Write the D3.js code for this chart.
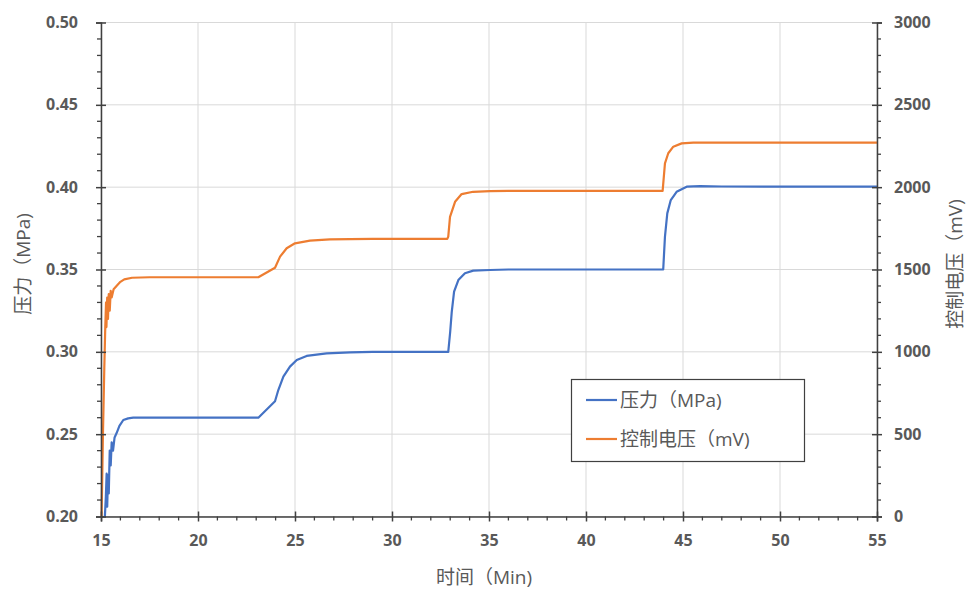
<!DOCTYPE html>
<html><head><meta charset="utf-8">
<script src="https://cdn.jsdelivr.net/npm/d3@7"></script>
<style>
body{margin:0;background:#fff;}
text{font-family:"Open Sans","Noto Sans CJK SC",sans-serif;}
</style></head>
<body>
<svg id="chart" width="968" height="589"></svg>
<script>
// ---- data ----
const xTicks = [15, 20, 25, 30, 35, 40, 45, 50, 55];
const leftTicks = [0.20, 0.25, 0.30, 0.35, 0.40, 0.45, 0.50];
const rightTicks = [0, 500, 1000, 1500, 2000, 2500, 3000];

const pressureTime = [15.2, 15.25, 15.29, 15.32, 15.36, 15.4, 15.45, 15.5, 15.55, 15.62, 15.7, 15.8, 15.95, 16.15, 16.4, 16.66, 17.5,
  23.11, 23.97, 24.14, 24.4, 24.74, 25.09, 25.6, 26.63, 27.84, 29,
  32.9, 33.0, 33.08, 33.2, 33.42, 33.76, 34.19, 35.05, 36,
  43.98, 44.07, 44.19, 44.37, 44.67, 45.19, 45.88, 47, 55];
const pressureValue = [0.200, 0.212, 0.226, 0.206, 0.225, 0.214, 0.240, 0.231, 0.245, 0.240, 0.248, 0.2505, 0.255, 0.2586, 0.2596, 0.2600, 0.2600,
  0.2600, 0.2700, 0.2768, 0.2849, 0.2910, 0.2950, 0.2975, 0.2991, 0.2997, 0.3000,
  0.3000, 0.3122, 0.3243, 0.3365, 0.3436, 0.3477, 0.3493, 0.3497, 0.3500,
  0.3500, 0.3700, 0.3841, 0.3922, 0.3972, 0.4003, 0.4006, 0.4004, 0.4003];

const voltageTime = [15.03, 15.1, 15.17, 15.22, 15.26, 15.28, 15.32, 15.36, 15.4, 15.45, 15.5, 15.55, 15.65, 15.8, 16.0, 16.2, 16.6, 17.5,
  23.11, 23.97, 24.23, 24.57, 25.0, 25.77, 26.8, 27.84, 29,
  32.85, 32.9, 32.99, 33.25, 33.59, 34.18, 35.05, 36,
  43.95, 44.07, 44.24, 44.5, 44.93, 45.53, 47, 55];
const voltageValue = [0, 500, 900, 1150, 1300, 1150, 1330, 1200, 1350, 1250, 1370, 1330, 1380, 1400, 1425, 1440, 1450, 1453,
  1453, 1511, 1578, 1629, 1659, 1675, 1683, 1685, 1686,
  1686, 1700, 1820, 1911, 1958, 1972, 1976, 1977,
  1977, 2145, 2206, 2246, 2266, 2270, 2270, 2270];

const legendLabels = ["压力（MPa)", "控制电压（mV)"];
const colors = ["#4472C4", "#ED7D31"];

// ---- layout ----
const svg = d3.select("#chart");
const L = 101, R = 877, T = 22.5, B = 516.5;
const x = d3.scaleLinear().domain([15, 55]).range([L, R]);
const yL = d3.scaleLinear().domain([0.20, 0.50]).range([B, T]);
const yR = d3.scaleLinear().domain([0, 3000]).range([B, T]);
const axisColor = "#404040", gridColor = "#d9d9d9", textColor = "#595959";

// grid
const g = svg.append("g");
g.selectAll(".vg").data(xTicks).join("line")
  .attr("x1", d => x(d)).attr("x2", d => x(d)).attr("y1", T).attr("y2", B)
  .attr("stroke", gridColor).attr("stroke-width", 1);
g.selectAll(".hg").data(leftTicks).join("line")
  .attr("x1", L).attr("x2", R).attr("y1", d => yL(d)).attr("y2", d => yL(d))
  .attr("stroke", gridColor).attr("stroke-width", 1);

// lines
const linePress = d3.line().x((d, i) => x(pressureTime[i])).y(d => yL(d));
const lineVolt = d3.line().x((d, i) => x(voltageTime[i])).y(d => yR(d));
svg.append("path").attr("d", lineVolt(voltageValue)).attr("fill", "none")
  .attr("stroke", colors[1]).attr("stroke-width", 2.2).attr("stroke-linejoin", "round");
svg.append("path").attr("d", linePress(pressureValue)).attr("fill", "none")
  .attr("stroke", colors[0]).attr("stroke-width", 2.2).attr("stroke-linejoin", "round");

function minors(majors, n) {
  const out = [];
  for (let i = 0; i < majors.length - 1; i++) {
    const a = majors[i], b = majors[i + 1];
    for (let k = 1; k < n; k++) out.push(a + (b - a) * k / n);
  }
  return out;
}

// axes
const axL = svg.append("g").attr("transform", `translate(${L},0)`)
  .call(d3.axisLeft(yL).tickValues(leftTicks).tickFormat(d3.format(".2f")).tickSize(5).tickPadding(18));
const axR = svg.append("g").attr("transform", `translate(${R},0)`)
  .call(d3.axisRight(yR).tickValues(rightTicks).tickFormat(d3.format("d")).tickSize(5).tickPadding(12));
const axB = svg.append("g").attr("transform", `translate(0,${B})`)
  .call(d3.axisBottom(x).tickValues(xTicks).tickSize(5).tickPadding(13));

[axL, axR, axB].forEach(a => {
  a.select(".domain").attr("stroke", axisColor).attr("stroke-width", 1.5);
  a.selectAll(".tick line").attr("stroke", axisColor).attr("stroke-width", 1.5);
  a.selectAll(".tick text").attr("fill", textColor).attr("font-size", 16).attr("font-weight", "bold");
});
axL.selectAll(".tick line").attr("x1", 5).attr("x2", -5);
axR.selectAll(".tick line").attr("x1", -5).attr("x2", 5);
axB.selectAll(".tick line").attr("y1", -5).attr("y2", 5);

// minor ticks
svg.append("g").selectAll("line").data(minors(leftTicks, 5)).join("line")
  .attr("x1", L - 4).attr("x2", L).attr("y1", d => yL(d)).attr("y2", d => yL(d))
  .attr("stroke", axisColor).attr("stroke-width", 1.3);
svg.append("g").selectAll("line").data(minors(rightTicks, 5)).join("line")
  .attr("x1", R).attr("x2", R + 4).attr("y1", d => yR(d)).attr("y2", d => yR(d))
  .attr("stroke", axisColor).attr("stroke-width", 1.3);
svg.append("g").selectAll("line").data(minors(xTicks, 5)).join("line")
  .attr("x1", d => x(d)).attr("x2", d => x(d)).attr("y1", B).attr("y2", B + 4)
  .attr("stroke", axisColor).attr("stroke-width", 1.3);

// axis titles
svg.append("text").text("时间（Min)").attr("x", 484).attr("y", 584)
  .attr("text-anchor", "middle").attr("fill", textColor).attr("font-size", 19);
svg.append("text").text("压力（MPa)")
  .attr("transform", `translate(30,264) rotate(-90)`)
  .attr("text-anchor", "middle").attr("fill", textColor).attr("font-size", 19);
svg.append("text").text("控制电压（mV)")
  .attr("transform", `translate(962,264) rotate(-90)`)
  .attr("text-anchor", "middle").attr("fill", textColor).attr("font-size", 19);

// legend
const lg = svg.append("g");
lg.append("rect").attr("x", 571.5).attr("y", 379.5).attr("width", 233).attr("height", 82)
  .attr("fill", "#fff").attr("stroke", axisColor).attr("stroke-width", 1.2);
legendLabels.forEach((lab, i) => {
  const yy = 400 + i * 39;
  lg.append("line").attr("x1", 586).attr("x2", 617).attr("y1", yy).attr("y2", yy)
    .attr("stroke", colors[i]).attr("stroke-width", 2.2);
  lg.append("text").text(lab).attr("x", 620).attr("y", yy + 7)
    .attr("fill", textColor).attr("font-size", 19);
});
</script>
</body></html>
